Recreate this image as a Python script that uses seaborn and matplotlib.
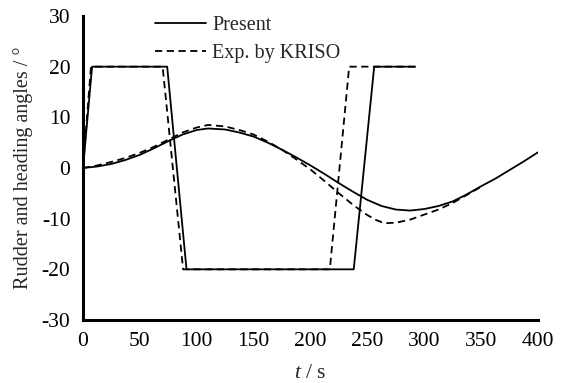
import numpy as np
import pandas as pd
import matplotlib
matplotlib.use("Agg")
import matplotlib.pyplot as plt
import seaborn as sns

# Rudder angle (Present)
rud_present_t = [0, 8, 74, 91, 238, 256, 292]
rud_present_v = [0, 20, 20, -20, -20, 20, 20]
# Rudder angle (Exp. by KRISO)
rud_exp_t = [0, 7, 70, 88, 217, 234, 292]
rud_exp_v = [0, 20, 20, -20, -20, 20, 20]
# Heading angle (Present)
head_present_t = [0, 12.5, 25, 37.5, 50, 62.5, 75, 87.5, 100, 110, 125, 137.5, 150, 162.5, 175, 187.5, 200,
                  212.5, 225, 237.5, 250, 262.5, 275, 287.5, 300, 312.5, 325, 337.5, 350, 362.5, 375, 387.5, 400]
head_present_v = [0, 0.3, 0.8, 1.6, 2.6, 3.9, 5.3, 6.6, 7.5, 7.8, 7.6, 7.0, 6.2, 5.0, 3.6, 2.1, 0.5,
                  -1.2, -3.0, -4.7, -6.3, -7.5, -8.2, -8.4, -8.1, -7.5, -6.6, -5.2, -3.6, -2.1, -0.4, 1.3, 3.1]
# Heading angle (Exp. by KRISO)
head_exp_t = [0, 12.5, 25, 37.5, 50, 62.5, 75, 87.5, 100, 110, 125, 137.5, 150, 162.5, 175, 187.5, 200,
              212.5, 225, 237.5, 250, 258, 265, 275, 287.5, 300, 312.5, 325, 337.5, 350]
head_exp_v = [0, 0.5, 1.2, 2.0, 3.0, 4.2, 5.6, 7.0, 8.0, 8.5, 8.2, 7.5, 6.6, 5.2, 3.6, 1.7, -0.3,
              -2.6, -5.0, -7.3, -9.3, -10.3, -10.9, -10.8, -10.2, -9.2, -8.2, -6.9, -5.3, -3.7]

xticks = [0, 50, 100, 150, 200, 250, 300, 350, 400]
yticks = [-30, -20, -10, 0, 10, 20, 30]

sns.set_style("white")
plt.rcParams['font.family'] = ['Liberation Serif', 'DejaVu Serif']
plt.rcParams['mathtext.fontset'] = 'custom'
plt.rcParams['mathtext.it'] = 'Liberation Serif:italic'
plt.rcParams['mathtext.rm'] = 'Liberation Serif'

fig = plt.figure(figsize=(5.67, 3.83), dpi=100)
ax = fig.add_axes([83/567, 1-320/383, (538-83)/567, (320-16)/383])

def df(t, v):
    return pd.DataFrame({"t": t, "v": v})

lw = 1.3
dash = (0, (4, 2.5))
sns.lineplot(data=df(rud_present_t, rud_present_v), x="t", y="v", ax=ax, color="black", lw=lw, label="Present")
sns.lineplot(data=df(rud_exp_t, rud_exp_v), x="t", y="v", ax=ax, color="black", lw=lw, linestyle=dash, label="Exp. by KRISO")
sns.lineplot(data=df(head_present_t, head_present_v), x="t", y="v", ax=ax, color="black", lw=lw, label="_nolegend_")
sns.lineplot(data=df(head_exp_t, head_exp_v), x="t", y="v", ax=ax, color="black", lw=lw, linestyle=dash, label="_nolegend_")

ax.set_xlim(0, 400)
ax.set_ylim(-30, 30)
ax.set_xticks(xticks)
ax.set_yticks(yticks)
ax.set_xticklabels([str(x) for x in xticks])
ax.set_yticklabels([str(y) for y in yticks])
for s in ["top", "right"]:
    ax.spines[s].set_visible(False)
for s in ["left", "bottom"]:
    ax.spines[s].set_linewidth(2.2)
    ax.spines[s].set_color("black")
ax.tick_params(direction="in", length=6, width=2, labelsize=15.5, colors="black")
ax.tick_params(axis="y", pad=9)
ax.tick_params(axis="x", pad=9)
ax.set_xlabel("$t$ / s", fontsize=15.5, labelpad=9)
ax.set_ylabel("Rudder and heading angles / °", fontsize=14.5, labelpad=6)

leg = ax.legend(loc="upper left", bbox_to_anchor=((155-83)/455, 1.0), frameon=False, fontsize=14.5,
                handlelength=2.55, handletextpad=0.3, labelspacing=0.45, borderaxespad=0, borderpad=0)

fig.savefig("out.png", dpi=100)
